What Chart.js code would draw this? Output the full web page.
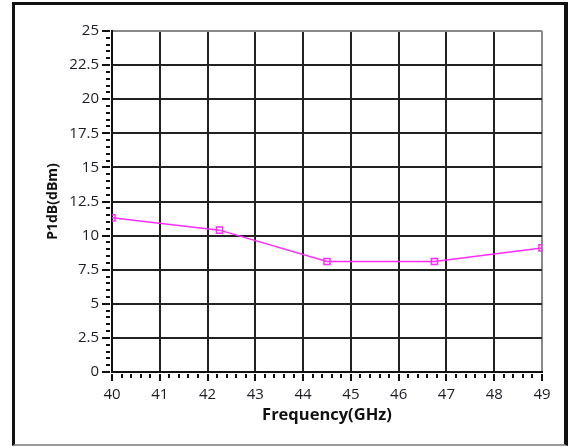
<!DOCTYPE html>
<html>
<head>
<meta charset="utf-8">
<script src="https://cdn.jsdelivr.net/npm/chart.js@4.4.0/dist/chart.umd.js"></script>
<style>
    html, body { margin: 0; padding: 0; background: #fff; }
    #wrap { position: relative; width: 569px; height: 447px; overflow: hidden; }
    #p1db-chart { position: absolute; left: 0; top: 0; }
    .frame { position: absolute; left: 12px; top: 2px; width: 556px; height: 444px; box-sizing: border-box;
        border-left: 3px solid #111; border-top: 3px solid #111; border-right: 4px solid #111; border-bottom: 2px solid #999;
        pointer-events: none; }
</style>
</head>
<body>
<div id="wrap">
    <canvas id="p1db-chart" width="569" height="447"></canvas>
    <div class="frame"></div>
</div>
<script>
// measured points (GHz / dBm)
const freqs = [40, 42.25, 44.5, 46.75, 49];
const p1db = [11.3, 10.4, 8.1, 8.1, 9.1];

// axis ticks
const xTicks = [40, 41, 42, 43, 44, 45, 46, 47, 48, 49];
const yTicks = [0, 2.5, 5, 7.5, 10, 12.5, 15, 17.5, 20, 22.5, 25];
const xMinorStep = 0.2;
const yMinorStep = 0.5;

const LINE = '#ff2bff';
const INK = '#1c1c24';

// minor / major tick marks outside the plot, drawn against the chart's own scales
const tickMarks = {
    id: 'tickMarks',
    afterDraw(chart) {
        const { ctx, chartArea: a, scales: { x, y } } = chart;
        ctx.save();
        ctx.strokeStyle = '#111';
        ctx.lineWidth = 2;
        ctx.beginPath();
        const yMax = yTicks[yTicks.length - 1];
        for (let i = 0; i * yMinorStep <= yMax + 1e-9; i++) {
            const v = i * yMinorStep;
            const py = Math.round(y.getPixelForValue(v));
            const major = yTicks.some((t) => Math.abs(t - v) < 1e-6);
            ctx.moveTo(a.left - (major ? 10 : 6), py);
            ctx.lineTo(a.left - 2, py);
        }
        const x0 = xTicks[0], x1 = xTicks[xTicks.length - 1];
        for (let i = 0; x0 + i * xMinorStep <= x1 + 1e-9; i++) {
            const v = x0 + i * xMinorStep;
            const px = Math.round(x.getPixelForValue(v));
            const major = xTicks.some((t) => Math.abs(t - v) < 1e-6);
            ctx.moveTo(px, a.bottom + 2);
            ctx.lineTo(px, a.bottom + (major ? 9 : 6));
        }
        ctx.stroke();
        ctx.restore();
    }
};

const gridColor = (edge) => (c) => (c.tick && c.tick.value === edge ? '#8a8a8a' : '#222');

new Chart(document.getElementById('p1db-chart'), {
    type: 'line',
    data: {
        datasets: [{
            label: 'P1dB',
            data: freqs.map((f, i) => ({ x: f, y: p1db[i] })),
            borderColor: LINE,
            borderWidth: 1.5,
            tension: 0,
            pointStyle: 'rect',
            pointRadius: 4.3,
            pointBorderWidth: 1.5,
            pointBorderColor: LINE,
            pointBackgroundColor: 'rgba(255,255,255,0)',
        }]
    },
    options: {
        responsive: false,
        animation: false,
        layout: { padding: { left: 0, top: 31, right: 27, bottom: 0 } },
        plugins: { legend: { display: false }, tooltip: { enabled: false } },
        scales: {
            x: {
                type: 'linear', min: 40, max: 49,
                afterFit: (s) => { s.height = 75; },
                afterBuildTicks: (s) => { s.ticks = xTicks.map((v) => ({ value: v })); },
                ticks: { color: INK, padding: 14, font: { family: 'Open Sans', size: 15 } },
                grid: { color: gridColor(49), lineWidth: 2, drawTicks: false },
                border: { display: true, color: '#111', width: 2 },
                title: { display: true, text: 'Frequency(GHz)', color: '#111',
                    font: { family: 'Open Sans', size: 16.5, weight: 'bold' }, padding: { top: 0, bottom: 22 } }
            },
            y: {
                min: 0, max: 25,
                afterFit: (s) => { s.width = 112; },
                afterBuildTicks: (s) => { s.ticks = yTicks.map((v) => ({ value: v })); },
                ticks: { color: INK, padding: 13, font: { family: 'Open Sans', size: 15 },
                    callback: (v) => String(v) },
                grid: { color: gridColor(25), lineWidth: 2, drawTicks: false },
                border: { display: true, color: '#111', width: 2 },
                title: { display: true, text: 'P1dB(dBm)', color: '#111',
                    font: { family: 'Open Sans', size: 14, weight: 'bold' }, padding: { top: 45, bottom: 0 } }
            }
        }
    },
    plugins: [tickMarks]
});
</script>
</body>
</html>
